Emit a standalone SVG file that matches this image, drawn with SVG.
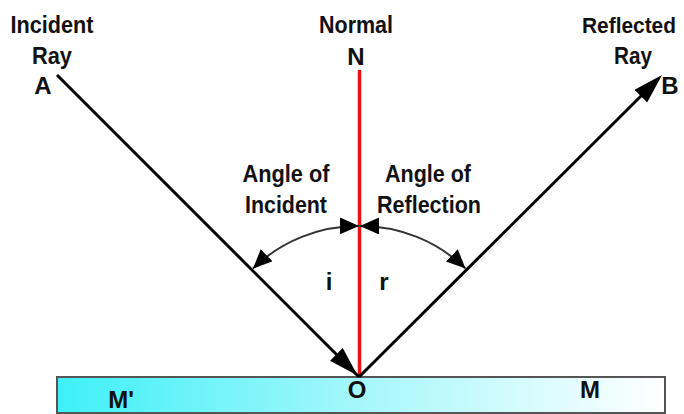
<svg xmlns="http://www.w3.org/2000/svg" width="684" height="414" viewBox="0 0 684 414">
<style>
text{font-family:"Liberation Sans",Arial,sans-serif;font-weight:bold;font-size:24px;fill:#111;text-anchor:middle}
.ray{stroke:#000;stroke-width:3;fill:none}
.arc{stroke:#333;stroke-width:2;fill:none}
.normal{stroke:#ee1111;stroke-width:3.5}
</style>
<defs>
<linearGradient id="mir" x1="0" y1="0" x2="1" y2="0">
<stop offset="0" stop-color="#3ef0f8"/>
<stop offset="0.5" stop-color="#a6f7fb"/>
<stop offset="1" stop-color="#ffffff"/>
</linearGradient>
<marker id="bigA" markerUnits="userSpaceOnUse" markerWidth="40" markerHeight="30" viewBox="0 0 40 30" refX="32" refY="9" orient="auto">
<path d="M0,0 L30,9 L0,18 z" fill="#000"/>
</marker>
<marker id="bigB" markerUnits="userSpaceOnUse" markerWidth="40" markerHeight="30" viewBox="0 0 40 30" refX="24" refY="9" orient="auto">
<path d="M0,0 L30,9 L0,18 z" fill="#000"/>
</marker>
<marker id="small" markerUnits="userSpaceOnUse" markerWidth="24" markerHeight="20" viewBox="0 0 24 20" refX="19" refY="8.5" orient="auto-start-reverse">
<path d="M0,0 L19,8.5 L0,17 z" fill="#000"/>
</marker>
</defs>

<g id="mirror">
<rect x="57" y="377" width="608" height="36" fill="url(#mir)" stroke="#555" stroke-width="2"/>
<text x="121" y="408">M'</text>
<text x="357" y="398">O</text>
<text x="590" y="398">M</text>
</g>

<g id="connectors">
<line class="normal" x1="359.5" y1="70" x2="359.5" y2="377"/>
<line class="ray" x1="57" y1="75" x2="359" y2="377" marker-end="url(#bigA)"/>
<line class="ray" x1="359" y1="377" x2="657.8" y2="79.2" marker-end="url(#bigB)"/>
<path class="arc" d="M253,268.5 A151 151 0 0 1 359,226" marker-start="url(#small)" marker-end="url(#small)"/>
<path class="arc" d="M360,226 A151 151 0 0 1 465.5,268.5" marker-start="url(#small)" marker-end="url(#small)"/>
</g>

<g id="incident-ray">
<text x="52" y="33" textLength="83" lengthAdjust="spacingAndGlyphs">Incident</text>
<text x="52" y="64" textLength="40" lengthAdjust="spacingAndGlyphs">Ray</text>
<text x="43" y="94">A</text>
</g>

<g id="normal">
<text x="356" y="33" textLength="74" lengthAdjust="spacingAndGlyphs">Normal</text>
<text x="356" y="65">N</text>
</g>

<g id="reflected-ray">
<text x="629" y="33" style="font-size:22px" textLength="94" lengthAdjust="spacingAndGlyphs">Reflected</text>
<text x="633" y="64" textLength="38" lengthAdjust="spacingAndGlyphs">Ray</text>
<text x="670" y="94">B</text>
</g>

<g id="angle-incident">
<text x="286" y="182" textLength="87" lengthAdjust="spacingAndGlyphs">Angle of</text>
<text x="286" y="213" textLength="82" lengthAdjust="spacingAndGlyphs">Incident</text>
<text x="329" y="290">i</text>
</g>

<g id="angle-reflection">
<text x="428" y="182" textLength="86" lengthAdjust="spacingAndGlyphs">Angle of</text>
<text x="429" y="213" textLength="104" lengthAdjust="spacingAndGlyphs">Reflection</text>
<text x="384" y="290">r</text>
</g>
</svg>
